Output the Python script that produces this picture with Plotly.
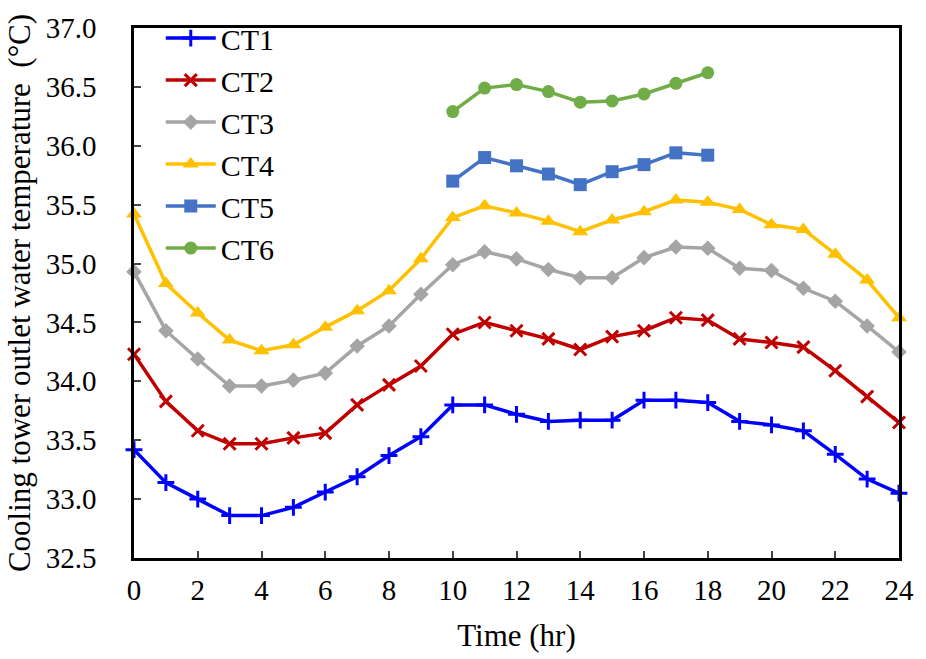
import plotly.graph_objects as go

hours = list(range(25))
hours_ct56 = list(range(10, 19))

ct1 = [33.42, 33.14, 33.00, 32.86, 32.86, 32.93, 33.06, 33.19, 33.37, 33.53,
       33.80, 33.80, 33.72, 33.66, 33.67, 33.67, 33.84, 33.84, 33.82,
       33.66, 33.63, 33.58, 33.38, 33.17, 33.05]
ct2 = [34.23, 33.83, 33.58, 33.47, 33.47, 33.52, 33.56, 33.80, 33.97, 34.13,
       34.40, 34.50, 34.43, 34.36, 34.27, 34.38, 34.43, 34.54, 34.52,
       34.36, 34.33, 34.29, 34.09, 33.87, 33.65]
ct3 = [34.93, 34.43, 34.19, 33.96, 33.96, 34.01, 34.07, 34.30, 34.47, 34.74,
       34.99, 35.10, 35.04, 34.95, 34.88, 34.88, 35.05, 35.14, 35.13,
       34.96, 34.94, 34.79, 34.68, 34.47, 34.25]
ct4 = [35.42, 34.83, 34.58, 34.35, 34.26, 34.31, 34.46, 34.60, 34.77, 35.04,
       35.39, 35.49, 35.43, 35.36, 35.27, 35.37, 35.44, 35.54, 35.52,
       35.46, 35.33, 35.29, 35.08, 34.86, 34.54]
ct5 = [35.70, 35.90, 35.83, 35.76, 35.67, 35.78, 35.84, 35.94, 35.92]
ct6 = [36.29, 36.49, 36.52, 36.46, 36.37, 36.38, 36.44, 36.53, 36.62]

x_ticks = list(range(0, 25, 2))
y_ticks = [32.5, 33.0, 33.5, 34.0, 34.5, 35.0, 35.5, 36.0, 36.5, 37.0]

series = [
    ("CT1", hours, ct1, "#0000FF", "cross-thin", 12, 3),
    ("CT2", hours, ct2, "#C00000", "x-thin", 12, 3),
    ("CT3", hours, ct3, "#A5A5A5", "diamond", 12, 0),
    ("CT4", hours, ct4, "#FFC000", "triangle-up", 14, 0),
    ("CT5", hours_ct56, ct5, "#4472C4", "square", 13, 0),
    ("CT6", hours_ct56, ct6, "#70AD47", "circle", 13, 0),
]

font_family = "Liberation Serif"
fig = go.Figure()
for i, (name, xs, ys, color, sym, size, lw) in enumerate(series):
    fig.add_trace(go.Scatter(
        x=xs, y=ys, name=name, mode="lines+markers",
        line=dict(color=color, width=3.5),
        marker=dict(symbol=sym, size=size, color=color,
                    line=dict(color=color, width=lw)),
        cliponaxis=False, legendgroup=f"g{i}",
    ))

fig.update_layout(
    width=926, height=659,
    margin=dict(l=134, r=15, t=15, b=99),
    plot_bgcolor="white", paper_bgcolor="white",
    font=dict(family=font_family, size=29, color="black"),
    showlegend=True,
    legend=dict(x=0.035, y=1.03, xanchor="left", yanchor="top",
                font=dict(size=30, family=font_family),
                bgcolor="rgba(0,0,0,0)", tracegroupgap=0,
                itemwidth=50),
    xaxis=dict(range=[0, 24], tickvals=x_ticks, ticks="inside", ticklen=7,
               tickwidth=2, linecolor="black", linewidth=2.5, mirror=True,
               showgrid=False, zeroline=False,
               tickfont=dict(size=29), ticklabelstandoff=4,
               title=dict(text="Time (hr)", font=dict(size=31), standoff=20)),
    yaxis=dict(range=[32.5, 37.0], tickvals=y_ticks, tickformat=".1f",
               ticks="inside", ticklen=7, tickwidth=2, linecolor="black",
               linewidth=2.5, mirror=True, showgrid=False, zeroline=False,
               tickfont=dict(size=29), ticklabelstandoff=29,
               title=dict(text="Cooling tower outlet water temperature  (°C)",
                          font=dict(size=31), standoff=6)),
)

fig.write_html("out.html")
